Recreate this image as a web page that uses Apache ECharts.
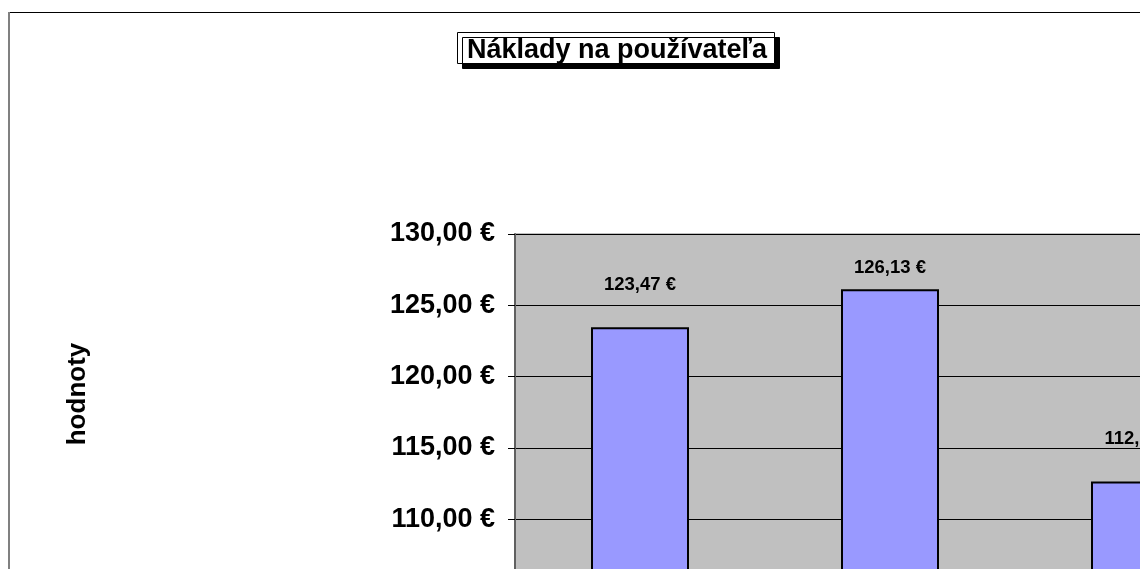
<!DOCTYPE html>
<html>
<head>
<meta charset="utf-8">
<script src="https://cdn.jsdelivr.net/npm/echarts@6/dist/echarts.min.js"></script>
<style>
  html, body { margin: 0; padding: 0; background: #fff; }
  #chart { width: 1140px; height: 569px; }
</style>
</head>
<body>
<div id="chart"></div>
<script>
// Náklady na používateľa - hodnoty v €
const categories = ['1', '2', '3']
const costs = [123.47, 126.13, 112.65]
const yMin = 100
const yMax = 130
const yStep = 5

const font = "'Liberation Sans', Arial, sans-serif"
const euro = (v) => v.toFixed(2).replace('.', ',') + ' €'

const myChart = echarts.init(document.getElementById('chart'))

const option = {
  animation: false,
  title: {
    text: 'Náklady na používateľa',
    left: 457,
    top: 33,
    padding: [5, 8, 0, 10],
    backgroundColor: '#fff',
    borderColor: '#000',
    borderWidth: 1,
    shadowColor: '#000',
    shadowBlur: 0,
    shadowOffsetX: 5,
    shadowOffsetY: 5,
    textStyle: {
      fontFamily: font,
      fontWeight: 'bold',
      fontSize: 27,
      lineHeight: 25,
      color: '#000',
    },
  },
  // okraj grafu (vľavo šedý, hore čierny)
  graphic: [
    {
      type: 'line',
      shape: { x1: 8, y1: 12.5, x2: 1140, y2: 12.5 },
      style: { stroke: '#000', lineWidth: 1 },
    },
    {
      type: 'line',
      shape: { x1: 9, y1: 12, x2: 9, y2: 569 },
      style: { stroke: '#808080', lineWidth: 2 },
    },
    {
      type: 'text',
      x: 78,
      y: 394,
      rotation: Math.PI / 2,
      style: {
        text: 'hodnoty',
        fontFamily: font,
        fontWeight: 'bold',
        fontSize: 26,
        fill: '#000',
        align: 'center',
        verticalAlign: 'middle',
      },
    },
  ],
  grid: {
    left: 515,
    top: 234,
    width: 750,
    height: 428,
    outerBoundsMode: 'none',
    show: true,
    backgroundColor: '#C0C0C0',
    borderColor: '#808080',
    borderWidth: 1,
    containLabel: false,
  },
  xAxis: {
    type: 'category',
    data: categories,
    axisLabel: { show: false },
    axisTick: { show: false },
  },
  yAxis: {
    type: 'value',
    min: yMin,
    max: yMax,
    interval: yStep,
    axisLine: { show: true, lineStyle: { color: '#606060', width: 2 } },
    axisTick: { show: true, length: 7, lineStyle: { color: '#000' } },
    splitLine: { show: true, lineStyle: { color: '#000', width: 1 } },
    axisLabel: {
      margin: 20,
      formatter: euro,
      fontFamily: font,
      fontWeight: 'bold',
      fontSize: 27,
      color: '#000',
    },
  },
  series: [
    {
      type: 'bar',
      data: costs.map((v, i) => ({ value: v, label: { distance: i === 1 ? 12 : 33 } })),
      barWidth: 98,
      itemStyle: {
        color: '#9999FF',
        borderColor: '#000',
        borderWidth: 2,
      },
      label: {
        show: true,
        position: 'top',
        formatter: (p) => euro(p.value),
        fontFamily: font,
        fontWeight: 'bold',
        fontSize: 18.5,
        color: '#000',
      },
    },
  ],
}

myChart.setOption(option, true)
</script>
</body>
</html>
